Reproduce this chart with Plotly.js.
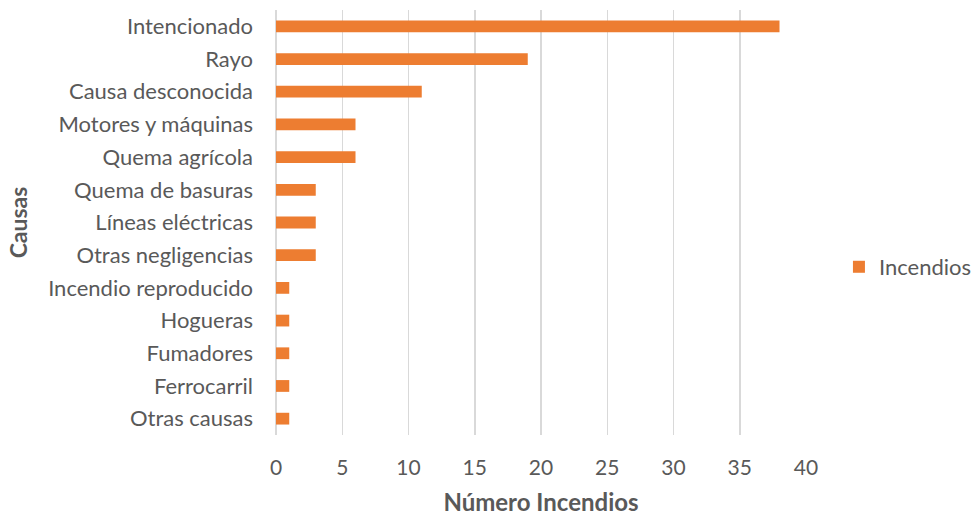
<!DOCTYPE html>
<html>
<head>
<meta charset="utf-8">
<script src="https://cdn.plot.ly/plotly-3.0.1.min.js"></script>
<style>html,body{margin:0;padding:0;background:#fff;}#chart{width:971px;height:516px;}</style>
</head>
<body>
<div id="chart"></div>
<script>
const categories = ["Intencionado","Rayo","Causa desconocida","Motores y máquinas","Quema agrícola","Quema de basuras","Líneas eléctricas","Otras negligencias","Incendio reproducido","Hogueras","Fumadores","Ferrocarril","Otras causas"];
const incendios = [38,19,11,6,6,3,3,3,1,1,1,1,1];
const seriesName = "Incendios";
const xTicks = [0,5,10,15,20,25,30,35,40];

const font = "Lato, 'Open Sans', sans-serif";
const txt = "#595959";

Plotly.newPlot("chart", [{
  type: "bar",
  orientation: "h",
  y: categories,
  x: incendios,
  name: seriesName,
  marker: {color: "#ED7D31"},
  showlegend: true
}], {
  width: 971, height: 516,
  margin: {l: 276, r: 165, t: 10, b: 81, autoexpand: false},
  paper_bgcolor: "#fff", plot_bgcolor: "#fff",
  bargap: 0.64,
  font: {family: font, color: txt, size: 22},
  xaxis: {
    range: [0, 40], tickvals: xTicks, ticktext: xTicks.map(String),
    showgrid: true, gridcolor: "#D9D9D9", gridwidth: 1.5,
    zeroline: true, zerolinecolor: "#D9D9D9", zerolinewidth: 1.5,
    showline: false, ticks: "", ticklabelstandoff: 18,
    tickfont: {size: 21, color: txt, family: font},
    title: {text: "Número Incendios", font: {size: 24, color: txt, family: font, weight: "bold"}, standoff: 16},
    automargin: false,
    fixedrange: true
  },
  yaxis: {
    autorange: "reversed", type: "category",
    showgrid: false, zeroline: false, showline: false, ticks: "",
    ticklabelstandoff: 22,
    tickfont: {size: 22, color: txt, family: font},
    title: {text: "Causas", font: {size: 23, color: txt, family: font, weight: "bold"}, standoff: 14},
    automargin: false,
    fixedrange: true
  },
  legend: {xref: "container", yref: "container", x: 0.864, xanchor: "left", y: 0.4826, yanchor: "middle",
    font: {size: 22, color: txt, family: font}, bgcolor: "rgba(0,0,0,0)", itemwidth: 30},
  showlegend: true
}, {displayModeBar: false, staticPlot: true});
</script>
</body>
</html>
